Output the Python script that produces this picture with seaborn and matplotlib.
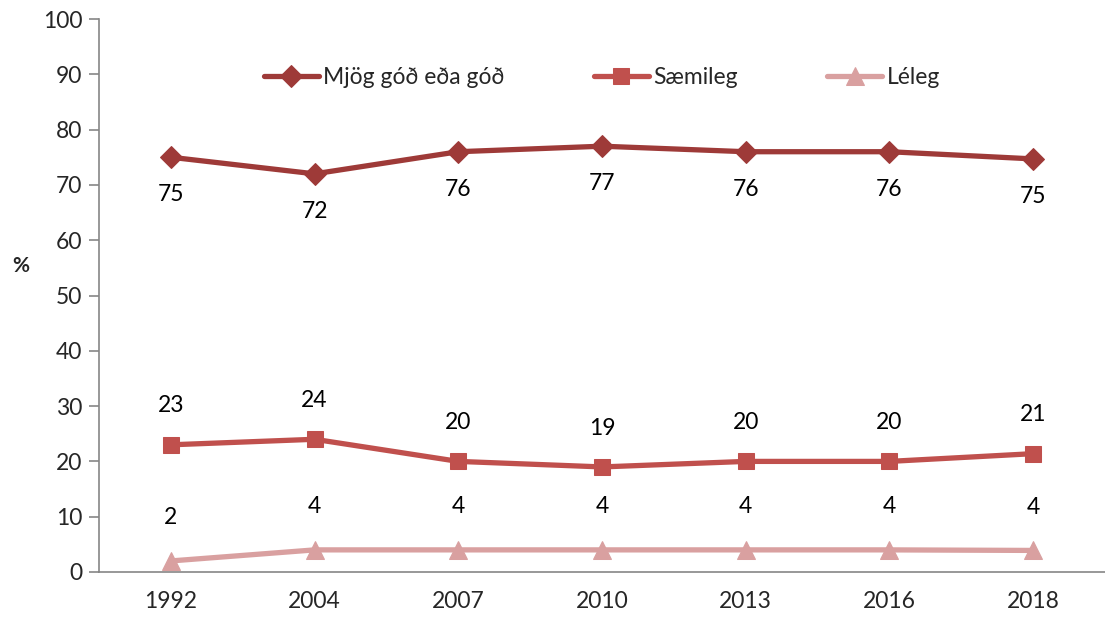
import numpy as np
import pandas as pd
import matplotlib
matplotlib.use("Agg")
import matplotlib.pyplot as plt
import seaborn as sns

years = ["1992", "2004", "2007", "2010", "2013", "2016", "2018"]
good = [75, 72, 76, 77, 76, 76, 74.7]
fair = [23, 24, 20, 19, 20, 20, 21.4]
poor = [2, 4, 4, 4, 4, 4, 3.9]
good_labels = ["75", "72", "76", "77", "76", "76", "75"]
fair_labels = ["23", "24", "20", "19", "20", "20", "21"]
poor_labels = ["2", "4", "4", "4", "4", "4", "4"]
series_names = ["Mjög góð eða góð", "Sæmileg", "Léleg"]

sns.set_style("white")
plt.rcParams["font.family"] = ["Lato", "DejaVu Sans"]

fig = plt.figure(figsize=(11.05, 6.21), dpi=100)
ax = fig.add_axes([99/1105, 1-572/621, 1-99/1105, (572-19)/621])

x = np.arange(len(years))
colors = ["#9E3A38", "#C0504D", "#D9A0A0"]
markers = ["D", "s", "^"]
msizes = [11, 12, 13]
data_sets = [good, fair, poor]
label_sets = [good_labels, fair_labels, poor_labels]
offsets = [-27, 28, 31]
FS = 16.5

for name, vals, labs, c, m, ms, off in zip(series_names, data_sets, label_sets, colors, markers, msizes, offsets):
    df = pd.DataFrame({"x": x, "y": vals})
    sns.lineplot(data=df, x="x", y="y", ax=ax, color=c, linewidth=3.8, marker=m,
                 markersize=ms, markeredgecolor=c, label=name)
    for xi, yi, lab in zip(x, vals, labs):
        ax.annotate(lab, (xi, yi), xytext=(0, off), textcoords="offset points",
                    ha="center", va="center", fontsize=FS, color="black")

ax.set_xlim(-0.5, 6.42)
ax.set_ylim(0, 100)
ax.set_yticks(np.arange(0, 101, 10))
ax.set_yticklabels([str(v) for v in range(0, 101, 10)], fontsize=FS)
ax.set_xticks(x)
ax.set_xticklabels(years, fontsize=FS)
ax.set_xticks(np.arange(-0.5, 6.6, 1), minor=True)
ax.tick_params(axis="x", which="major", length=0, pad=14)
ax.tick_params(axis="x", which="minor", length=7, color="#868686", width=1.2, direction="out")
ax.tick_params(axis="y", length=7, color="#868686", width=1.2, direction="out", pad=5, left=True)
for s in ["top", "right"]:
    ax.spines[s].set_visible(False)
for s in ["left", "bottom"]:
    ax.spines[s].set_color("#868686")
    ax.spines[s].set_linewidth(1.2)
ax.set_xlabel("")
ax.set_ylabel("%", rotation=0, fontsize=15, fontweight="bold", va="center")
ax.yaxis.set_label_coords(-0.078, 0.553)
ax.grid(False)

leg = ax.legend(loc="upper center", bbox_to_anchor=(0.5, 0.95), ncol=3, frameon=False,
                fontsize=FS, handlelength=2.4, handletextpad=0.2, columnspacing=3.9)

fig.savefig("out.png", dpi=100)
